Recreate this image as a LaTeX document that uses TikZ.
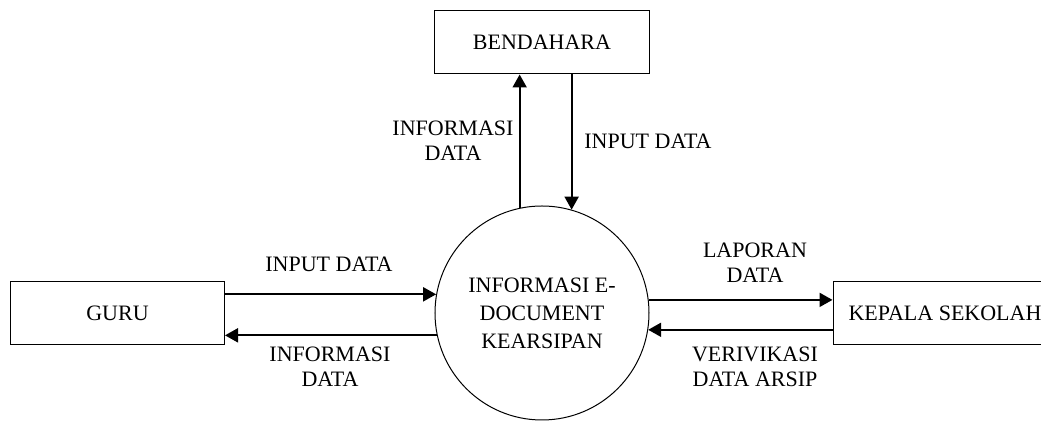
\documentclass[tikz,border=0pt]{standalone}
\usepackage{fontspec}
\setmainfont{Liberation Serif}
\usepackage{tikz}
\usetikzlibrary{arrows.meta,shapes}

\begin{document}
\begin{tikzpicture}[x=0.5bp,y=-0.5bp,
  font=\fontsize{11bp}{12.5bp}\selectfont,
  entitas/.style={draw,line width=0.5bp,rectangle,minimum width=107bp,minimum height=31.5bp,inner sep=0pt},
  proses/.style={draw,line width=0.5bp,circle,minimum size=107bp,inner sep=0pt,align=center},
  alur/.style={-{Triangle[length=6.5bp,width=7bp]},line width=1bp},
  ket/.style={align=center,inner sep=0pt}]
\useasboundingbox (0,0) rectangle (1041,421);
\node (P0) at (542,313) [proses] {INFORMASI E-\\[1.5bp]DOCUMENT\\[1.5bp]KEARSIPAN};
\node (BEN) at (542,42.5) [entitas] {BENDAHARA};
\node (GURU) at (117.5,313.5) [entitas] {GURU};
\node (KEP) at (945,313.5) [entitas,minimum width=112bp] {KEPALA SEKOLAH};
\draw [alur] (P0.102) to (P0.102 |- BEN.south);
\draw [alur] (P0.74 |- BEN.south) to (P0.74);
\draw [alur] (GURU.east |- P0.170) to (P0.170);
\draw [alur] (P0.192) to (P0.192 -| GURU.east);
\draw [alur] (P0.7.5) to (P0.7.5 -| KEP.west);
\draw [alur] (KEP.west |- P0.351) to (P0.351);
\node (L1) at (453,141) [ket] {INFORMASI\\DATA};
\node (L2) at (648,141) [ket] {INPUT DATA};
\node (L3) at (329,264) [ket] {INPUT DATA};
\node (L4) at (330,367) [ket] {INFORMASI\\DATA};
\node (L5) at (755,263) [ket] {LAPORAN\\DATA};
\node (L6) at (755,367) [ket] {VERIVIKASI\\DATA ARSIP};
\end{tikzpicture}
\end{document}
